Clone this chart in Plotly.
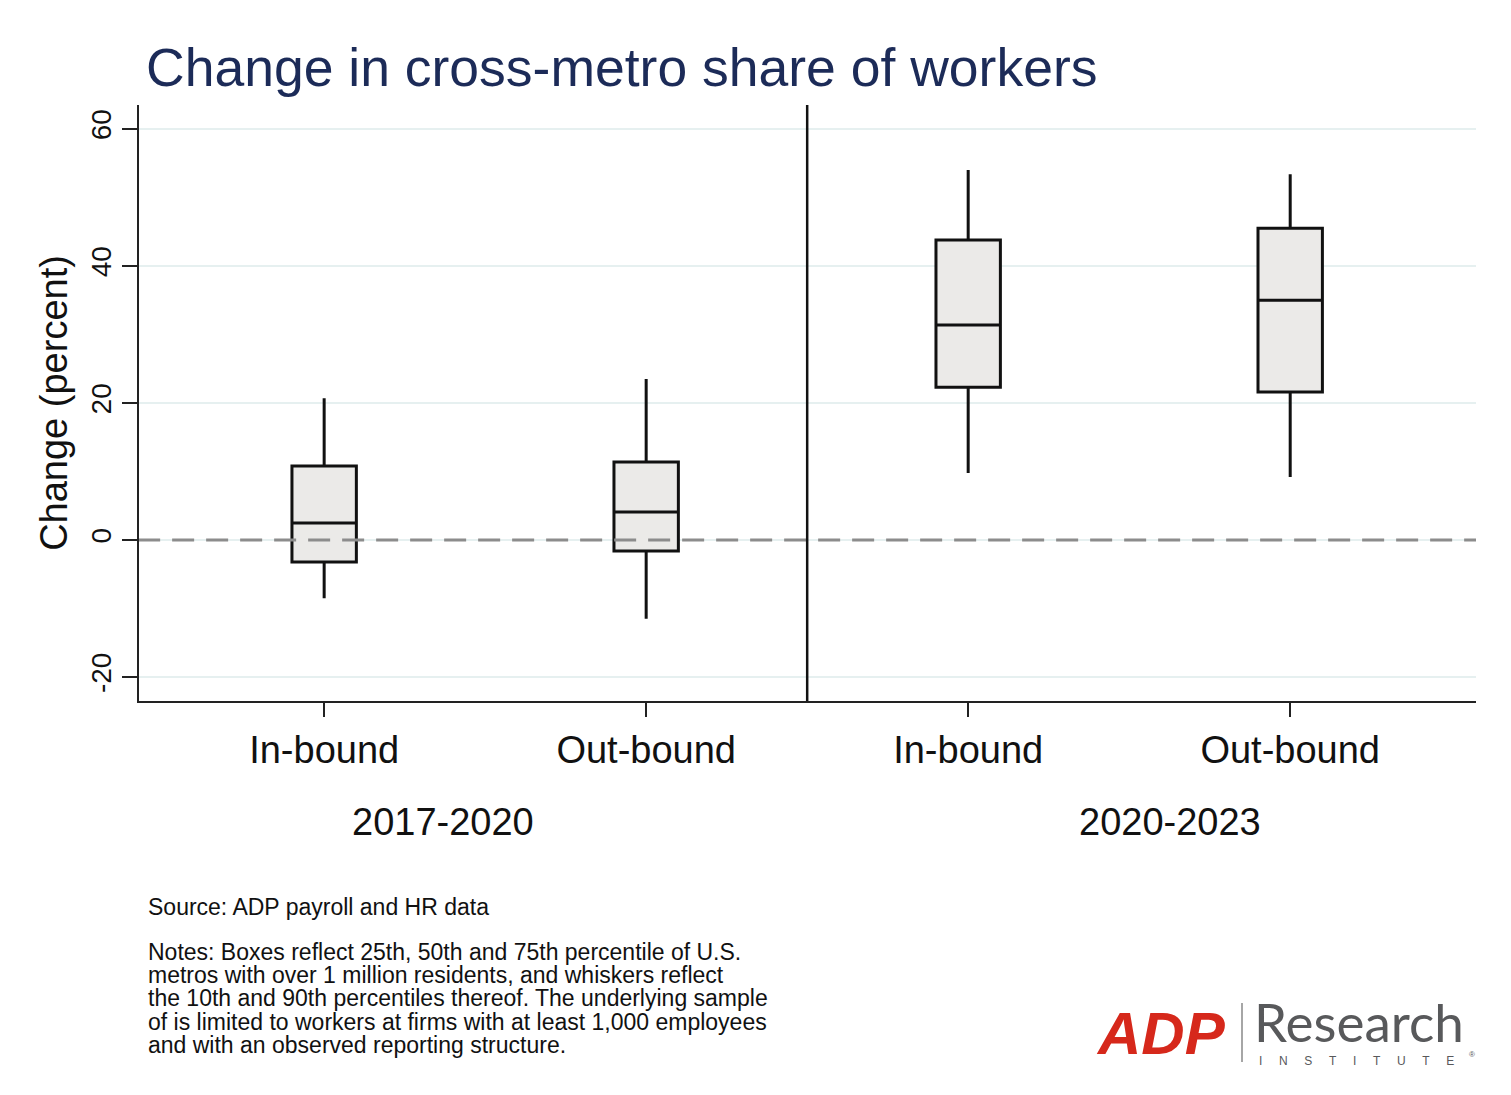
import plotly.graph_objects as go

# ---- data ----
categories = ["In-bound", "Out-bound", "In-bound", "Out-bound"]
periods = ["2017-2020", "2020-2023"]
p10 = [-8.5, -11.5, 9.8, 9.2]
p25 = [-3.2, -1.6, 22.3, 21.6]
p50 = [2.5, 4.1, 31.4, 35.0]
p75 = [10.8, 11.4, 43.8, 45.5]
p90 = [20.7, 23.5, 54.0, 53.4]
y_ticks = [-20, 0, 20, 40, 60]

positions = list(range(len(categories)))
FONT = "Liberation Sans, Arial, Helvetica, sans-serif"

# page offset (body margin) compensation
OFF = 8
W, H = 1511 - 2 * OFF, 1095 - 2 * OFF
PL, PR, PT, PB = 139, 1476, 105, 701  # plot area in screenshot pixels


def px_x(px):
    return (px - PL) / (PR - PL)


def px_y(py):
    return (PB - py) / (PB - PT)


fig = go.Figure()

# dashed zero reference line (drawn beneath boxes)
fig.add_trace(go.Scatter(
    x=[-1, len(categories)], y=[0, 0], mode="lines",
    line=dict(color="#8c8c8c", width=3, dash="22px,12px"),
    showlegend=False, hoverinfo="skip",
))

fig.add_trace(go.Box(
    x=positions,
    q1=p25, median=p50, q3=p75,
    lowerfence=p10, upperfence=p90,
    width=0.2, whiskerwidth=0,
    fillcolor="#ebeae8",
    line=dict(color="#111111", width=3),
    boxpoints=False, showlegend=False, hoverinfo="skip",
))

divider_x = (positions[1] + positions[2]) / 2

fig.update_layout(
    width=W, height=H,
    margin=dict(l=PL - OFF, r=W + OFF - PR, t=PT - OFF, b=H + OFF - PB),
    paper_bgcolor="white", plot_bgcolor="white",
    font=dict(family=FONT, color="#111111"),
    title=dict(
        text="Change in cross-metro share of workers",
        font=dict(family=FONT, size=53.5, color="#1c2b58"),
        x=(146 - OFF) / W, xanchor="left", y=1 - (67 - OFF) / H, yanchor="middle",
    ),
    xaxis=dict(
        range=[-0.575, 3.577],
        tickmode="array", tickvals=positions, ticktext=categories,
        tickfont=dict(size=38, family=FONT, color="#111111"),
        showgrid=False, zeroline=False,
        showline=True, linecolor="#222222", linewidth=2,
        ticks="outside", ticklen=14, tickwidth=2, tickcolor="#222222",
    ),
    yaxis=dict(
        range=[-23.5, 63.5],
        tickmode="array", tickvals=y_ticks, ticktext=[str(v) for v in y_ticks],
        tickangle=-90,
        tickfont=dict(size=28, family=FONT, color="#111111"),
        showgrid=True, gridcolor="#e6f0f0", gridwidth=2,
        zeroline=False,
        showline=True, linecolor="#222222", linewidth=2,
        ticks="outside", ticklen=15, tickwidth=2, tickcolor="#222222",
        title=dict(text="Change (percent)", font=dict(size=38, family=FONT, color="#111111"), standoff=6),
    ),
)

# vertical divider between periods
fig.add_shape(type="line", xref="x", yref="paper", x0=divider_x, x1=divider_x, y0=0, y1=1,
              line=dict(color="#111111", width=2.5))

# period labels
for txt, px in zip(periods, [443, 1170]):
    fig.add_annotation(text=txt, xref="paper", yref="paper",
                       x=px_x(px), y=px_y(822),
                       xanchor="center", yanchor="middle", showarrow=False,
                       font=dict(size=38, family=FONT, color="#111111"))

# source and notes
fig.add_annotation(text="Source: ADP payroll and HR data", xref="paper", yref="paper",
                   x=px_x(146), y=px_y(907), xanchor="left", yanchor="middle",
                   showarrow=False, font=dict(size=23, family=FONT, color="#111111"))
notes_lines = [
    "Notes: Boxes reflect 25th, 50th and 75th percentile of U.S.",
    "metros with over 1 million residents, and whiskers reflect",
    "the 10th and 90th percentiles thereof. The underlying sample",
    "of is limited to workers at firms with at least 1,000 employees",
    "and with an observed reporting structure.",
]
for i, line in enumerate(notes_lines):
    fig.add_annotation(text=line, xref="paper", yref="paper",
                       x=px_x(146), y=px_y(952 + i * 23.2), xanchor="left", yanchor="middle",
                       showarrow=False, font=dict(size=23, family=FONT, color="#111111"))

# logo (text approximation)
fig.add_annotation(text="<b><i>ADP</i></b>", xref="paper", yref="paper",
                   x=px_x(1161), y=px_y(1033), xanchor="center", yanchor="middle",
                   showarrow=False, font=dict(size=60, family=FONT, color="#d6281b"))
fig.add_shape(type="line", xref="paper", yref="paper",
              x0=px_x(1242), x1=px_x(1242), y0=px_y(1003), y1=px_y(1062),
              line=dict(color="#888888", width=1.5))
fig.add_annotation(text="Research", xref="paper", yref="paper",
                   x=px_x(1252), y=px_y(1021), xanchor="left", yanchor="middle",
                   showarrow=False, font=dict(size=53, family="Lato, " + FONT, color="#58595b"))
sp = "&nbsp;" * 5
fig.add_annotation(text=sp.join(list("INSTITUTE")),
                   xref="paper", yref="paper",
                   x=px_x(1257), y=px_y(1061), xanchor="left", yanchor="middle",
                   showarrow=False, font=dict(size=12, family=FONT, color="#58595b"))
fig.add_annotation(text="®", xref="paper", yref="paper",
                   x=px_x(1467), y=px_y(1054), xanchor="left", yanchor="middle",
                   showarrow=False, font=dict(size=8, family=FONT, color="#58595b"))

fig.write_html("out.html")
